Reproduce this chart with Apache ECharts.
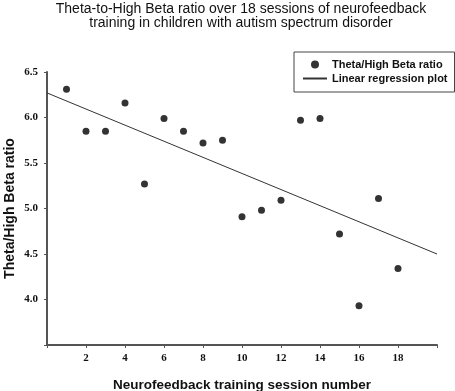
<!DOCTYPE html>
<html>
<head>
<meta charset="utf-8">
<script src="https://cdn.jsdelivr.net/npm/echarts@6/dist/echarts.min.js"></script>
<style>
  html, body { margin: 0; padding: 0; background: #fff; }
  #chart { width: 455px; height: 391px; }
</style>
</head>
<body>
<div id="chart"></div>
<script>
// session numbers and theta/high beta ratio
const sessions = [1, 2, 3, 4, 5, 6, 7, 8, 9, 10, 11, 12, 13, 14, 15, 16, 17, 18];
const ratios = [6.31, 5.85, 5.85, 6.16, 5.27, 5.99, 5.85, 5.72, 5.75, 4.91, 4.98, 5.09, 5.97, 5.99, 4.72, 3.93, 5.11, 4.34];
// regression line end points (x = 0 and x = 20)
const regX = [0, 20];
const regY = [6.27, 4.5];

const chart = echarts.init(document.getElementById('chart'));

const option = {
  animation: false,
  title: {
    text: 'Theta-to-High Beta ratio over 18 sessions of neurofeedback\ntraining in children with autism spectrum disorder',
    left: 241,
    top: 2,
    padding: 0,
    textAlign: 'center',
    textStyle: {
      fontFamily: 'Liberation Sans, Arial',
      fontWeight: 'normal',
      fontSize: 14,
      lineHeight: 14,
      color: '#111'
    }
  },
  legend: {
    orient: 'vertical',
    left: 294,
    top: 52,
    padding: [7, 7, 8, 8],
    borderColor: '#444',
    borderWidth: 1,
    itemWidth: 24,
    itemHeight: 8,
    itemGap: 3,
    itemTextGap: 7,
    selectedMode: false,
    textStyle: {
      fontFamily: 'Liberation Sans, Arial',
      fontWeight: 'bold',
      fontSize: 11,
      color: '#111'
    },
    data: [
      { name: 'Theta/High Beta ratio', icon: 'circle' },
      { name: 'Linear regression plot', itemStyle: { color: 'rgba(0,0,0,0)', borderWidth: 0 } }
    ]
  },
  grid: {
    left: 47,
    right: 18,
    top: 72,
    bottom: 46,
    outerBoundsMode: 'none'
  },
  xAxis: {
    type: 'value',
    min: 0,
    max: 20,
    interval: 2,
    name: 'Neurofeedback training session number',
    nameLocation: 'middle',
    nameGap: 33,
    nameMoveOverlap: false,
    nameTextStyle: {
      fontFamily: 'Liberation Sans, Arial',
      fontWeight: 'bold',
      fontSize: 13.5,
      color: '#111'
    },
    axisLine: { lineStyle: { color: '#555', width: 2 } },
    axisTick: { length: 3, lineStyle: { color: '#555' } },
    axisLabel: {
      margin: 8,
      fontFamily: 'Liberation Serif, Times New Roman',
      fontWeight: 'bold',
      fontSize: 11,
      color: '#111',
      formatter: function (v) { return (v === 0 || v === 20) ? '' : String(v); }
    },
    splitLine: { show: false }
  },
  yAxis: {
    type: 'value',
    min: 3.5,
    max: 6.5,
    interval: 0.5,
    name: 'Theta/High Beta ratio',
    nameLocation: 'middle',
    nameGap: 30,
    nameMoveOverlap: false,
    nameTextStyle: {
      fontFamily: 'Liberation Sans, Arial',
      fontWeight: 'bold',
      fontSize: 14,
      color: '#111'
    },
    axisLine: { show: true, lineStyle: { color: '#555', width: 2 } },
    axisTick: { show: true, length: 3, lineStyle: { color: '#555' } },
    axisLabel: {
      margin: 9,
      fontFamily: 'Liberation Serif, Times New Roman',
      fontWeight: 'bold',
      fontSize: 11,
      color: '#111',
      formatter: function (v) { return v === 3.5 ? '' : v.toFixed(1); }
    },
    splitLine: { show: false }
  },
  series: [
    {
      name: 'Theta/High Beta ratio',
      type: 'scatter',
      symbolSize: 7,
      itemStyle: { color: '#000' },
      data: sessions.map((s, i) => [s, ratios[i]])
    },
    {
      name: 'Linear regression plot',
      type: 'line',
      showSymbol: false,
      symbol: 'none',
      lineStyle: { color: '#333', width: 1 },
      itemStyle: { color: '#333' },
      data: regX.map((x, i) => [x, regY[i]])
    }
  ]
};

chart.setOption(option);
</script>
</body>
</html>
